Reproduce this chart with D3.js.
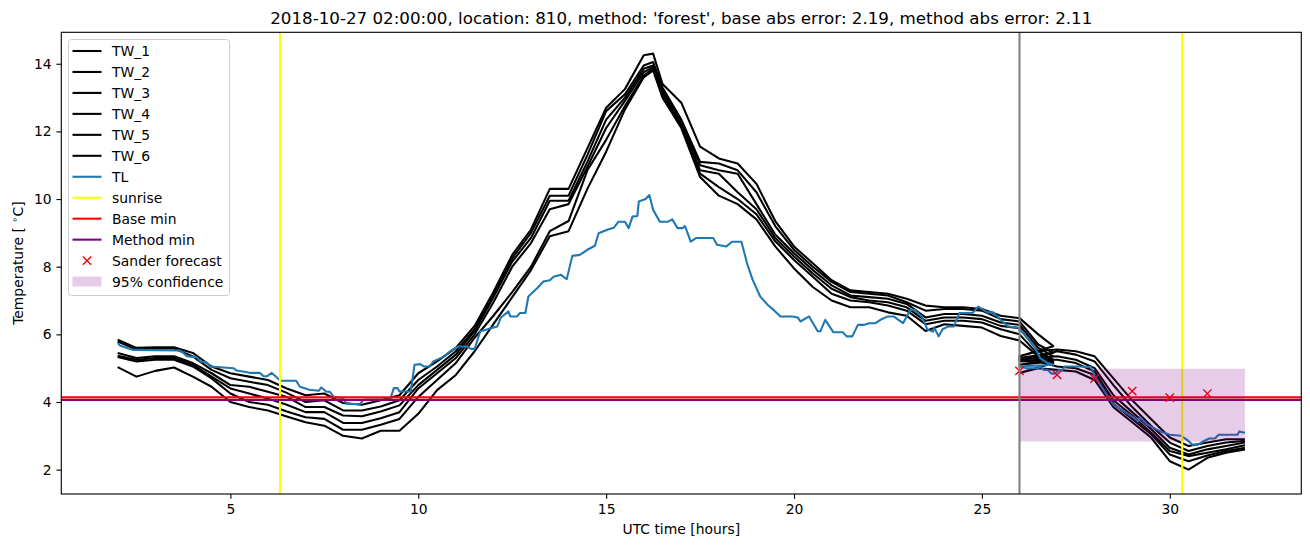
<!DOCTYPE html>
<html><head><meta charset="utf-8">
<script src="https://cdn.jsdelivr.net/npm/d3@7"></script>
<style>body{margin:0;background:#fff} text{font-family:"DejaVu Sans",sans-serif;fill:#000}</style>
</head><body><svg id="c" width="1310" height="547"></svg>
<script>
// ---------- DATA ----------
const titleText = "2018-10-27 02:00:00, location: 810, method: 'forest', base abs error: 2.19, method abs error: 2.11";
const xTicks = [5, 10, 15, 20, 25, 30];
const yTicks = [2, 4, 6, 8, 10, 12, 14];
const seriesNames = ["TW_1", "TW_2", "TW_3", "TW_4", "TW_5", "TW_6"];

const twHours = [2,2.5,3,3.5,4,4.5,5,5.5,6,6.5,7,7.5,8,8.5,9,9.5,10,10.5,11,11.5,12,12.5,13,13.5,14,14.5,15,15.5,16,16.25,16.5,17,17.5,18,18.5,19,19.5,20,20.5,21,21.5,22,22.5,23,23.5,24,24.5,25,25.5,26,26.5,26.9,
  26,26.5,27,27.5,28,28.5,29,29.5,30,30.5,31,31.5,32];
const tw1 = [5.84,5.6,5.62,5.62,5.45,5.05,4.85,4.75,4.65,4.4,4.2,4.25,3.97,3.92,4.05,4.2,4.85,5.2,5.6,6.25,7.25,8.35,9.1,10.3,10.3,11.5,12.7,13.25,14.25,14.3,13.4,12.85,11.55,11.2,11.05,10.45,9.35,8.6,8.1,7.6,7.3,7.25,7.2,7.05,6.85,6.8,6.8,6.75,6.55,6.48,6.0,5.65,
  5.35,5.5,5.55,5.5,5.35,4.7,4.05,3.5,2.95,2.7,2.8,2.9,2.9];
const tw2 = [5.79,5.55,5.58,5.58,5.35,4.95,4.7,4.6,4.5,4.27,4.0,4.05,3.75,3.75,3.87,4.05,4.65,5.05,5.5,6.15,7.15,8.25,9.0,10.1,10.1,11.3,12.6,13.1,13.95,14.05,13.3,12.35,11.1,11.05,10.85,10.2,9.2,8.5,8.0,7.55,7.25,7.2,7.15,6.95,6.7,6.75,6.75,6.7,6.45,6.38,5.7,5.45,
  5.3,5.35,5.5,5.4,5.2,4.5,3.85,3.3,2.8,2.55,2.7,2.8,2.85];
const tw3 = [5.45,5.3,5.35,5.35,5.15,4.85,4.5,4.45,4.3,4.15,3.85,3.85,3.6,3.58,3.72,3.9,4.5,4.95,5.4,6.1,7.1,8.15,8.85,9.95,9.95,11.1,12.35,13.0,13.85,13.95,13.2,12.3,11.0,10.85,10.75,9.85,8.95,8.4,7.9,7.45,7.15,7.1,7.05,6.9,6.5,6.6,6.6,6.55,6.35,6.28,5.6,5.35,
  5.25,5.3,5.35,5.25,5.0,4.2,3.7,3.2,2.65,2.45,2.6,2.7,2.8];
const tw4 = [5.37,5.25,5.3,5.3,5.1,4.75,4.4,4.25,4.1,3.92,3.7,3.7,3.38,3.38,3.52,3.7,4.4,4.85,5.3,6.0,6.95,8.0,8.7,9.7,9.85,10.95,12.1,12.9,13.75,13.9,13.15,12.2,10.85,10.75,10.2,9.7,8.85,8.3,7.8,7.35,7.1,7.0,6.95,6.8,6.4,6.5,6.5,6.45,6.25,6.18,5.5,5.25,
  5.2,5.25,5.25,5.15,4.9,4.05,3.6,3.1,2.55,2.4,2.5,2.6,2.72];
const tw5 = [5.33,5.2,5.25,5.25,5.05,4.7,4.25,4.0,3.92,3.72,3.55,3.5,3.18,3.18,3.33,3.5,4.15,4.65,5.15,5.9,6.55,7.25,8.0,9.05,9.35,10.85,11.75,12.75,13.65,13.85,13.05,12.15,10.75,10.35,10.0,9.55,8.75,8.2,7.7,7.2,7.0,6.95,6.85,6.7,6.3,6.4,6.4,6.35,6.15,6.0,5.4,5.2,
  5.1,5.2,5.05,5.0,4.8,3.95,3.5,3.05,2.45,2.25,2.42,2.55,2.65];
const tw6 = [5.03,4.75,4.92,5.02,4.75,4.45,4.0,3.85,3.75,3.57,3.4,3.3,3.0,2.92,3.15,3.15,3.65,4.35,4.8,5.5,6.3,7.1,7.9,8.9,9.05,10.3,11.4,12.65,13.6,13.8,13.0,12.1,10.65,10.1,9.85,9.4,8.6,7.95,7.4,7.0,6.8,6.8,6.65,6.55,6.1,6.3,6.25,6.2,5.95,5.82,5.35,5.15,
  4.86,5.0,4.95,4.9,4.65,3.85,3.4,2.95,2.25,2.0,2.35,2.5,2.6];

const tlHours = [2.0,2.07,2.42,3.66,3.75,3.84,4.11,4.2,4.37,4.46,5.08,5.17,5.44,5.53,5.79,5.88,5.97,6.1,6.2,6.33,6.75,6.85,7.1,7.35,7.42,7.55,7.65,7.75,8.0,8.1,8.45,8.55,9.25,9.35,9.45,9.5,9.8,9.9,10.05,10.15,10.3,10.4,10.7,10.85,11.07,11.3,11.4,11.5,11.65,11.85,12.1,12.2,12.4,12.45,12.63,12.7,12.85,12.93,13.17,13.33,13.5,13.6,13.8,13.95,14.1,14.3,14.5,14.7,14.8,15.03,15.2,15.33,15.5,15.6,15.7,15.83,15.87,16.05,16.15,16.25,16.43,16.65,16.76,16.9,17.03,17.1,17.25,17.4,17.85,17.95,18.2,18.35,18.6,18.75,18.9,19.1,19.3,19.45,19.64,19.95,20.1,20.17,20.4,20.63,20.7,20.83,21.05,21.3,21.4,21.55,21.7,21.85,22.0,22.17,22.3,22.5,22.65,22.9,23.1,23.2,23.4,23.55,23.7,23.73,23.85,23.95,24.1,24.25,24.4,24.75,24.9,25.15,25.3,25.5,25.7,25.95,26.1,26.4,26.55,26.75,26.9,
  26.0,26.2,26.5,26.55,26.65,26.75,26.85,26.95,27.05,27.15,27.2,27.6,27.9,28.0,28.1,28.35,28.5,28.78,29.05,29.15,29.2,29.4,29.75,30.0,30.3,30.45,30.6,30.75,30.9,31.05,31.2,31.3,31.8,31.85,31.95,32.0];
const tlTemps = [5.74,5.66,5.54,5.52,5.45,5.35,5.32,5.2,5.17,5.05,5.0,4.93,4.88,4.86,4.86,4.76,4.76,4.86,4.76,4.63,4.63,4.45,4.36,4.33,4.43,4.31,4.3,4.15,4.12,3.94,3.94,4.07,4.07,4.41,4.41,4.31,4.31,5.1,5.12,5.05,5.05,5.2,5.35,5.5,5.64,5.64,5.57,5.57,6.09,6.15,6.23,6.5,6.68,6.53,6.53,6.63,6.63,7.12,7.37,7.56,7.6,7.7,7.76,7.63,8.32,8.35,8.5,8.62,8.99,9.09,9.15,9.33,9.33,9.14,9.48,9.5,9.93,10.0,10.12,9.68,9.33,9.33,9.4,9.14,9.14,9.2,8.74,8.85,8.85,8.65,8.6,8.74,8.74,8.1,7.61,7.12,6.87,6.73,6.53,6.53,6.5,6.38,6.53,6.09,6.09,6.43,6.06,6.06,5.94,5.94,6.28,6.28,6.33,6.33,6.43,6.53,6.53,6.33,6.73,6.73,6.53,6.14,6.08,6.2,5.94,6.15,6.23,6.23,6.63,6.63,6.82,6.65,6.65,6.43,6.23,6.2,6.04,5.64,5.3,5.15,5.1,
  5.05,5.0,5.0,5.05,4.95,4.95,4.84,4.84,4.95,4.95,5.05,5.05,5.03,4.76,4.6,4.17,3.92,3.72,3.53,3.43,3.55,3.33,3.13,3.03,3.0,2.89,2.74,2.74,2.84,2.92,2.92,3.03,3.03,3.13,3.1,3.1];

const sunriseHours = [6.32, 30.33];
const baseMin = [4.136];
const methodMin = [4.06];
const forecastStart = [26.0];
const sanderHours = [26, 27, 28, 29, 30, 31];
const sanderTemps = [4.92, 4.80, 4.69, 4.32, 4.13, 4.25];
const confHours = [26, 32];
const confLow = [2.83, 2.83];
const confHigh = [4.98, 4.98];

const legendLabels = ["TW_1","TW_2","TW_3","TW_4","TW_5","TW_6","TL","sunrise","Base min","Method min","Sander forecast","95% confidence"];

// ---------- CHART ----------
const svg = d3.select("#c");
const L = 61.3, R = 1301.3, T = 32.3, B = 494;
const x = d3.scaleLinear().domain([0.5, 33.5]).range([L, R]);
const y = d3.scaleLinear().domain([1.28, 14.93]).range([B, T]);
const FS = 13.9;
const LW = 2.08;

const plot = svg.append("g");
svg.append("clipPath").attr("id","clp").append("rect").attr("x",L).attr("y",T).attr("width",R-L).attr("height",B-T);
const g = plot.append("g").attr("clip-path","url(#clp)");

const line = d3.line().x(d => x(d[0])).y(d => y(d[1]));
const twSeries = [tw1, tw2, tw3, tw4, tw5, tw6];
twSeries.forEach(vals => {
  g.append("path").attr("d", line(twHours.map((h,i)=>[h, vals[i]])))
   .attr("fill","none").attr("stroke","#000").attr("stroke-width",LW).attr("stroke-linejoin","round");
});
g.append("path").attr("d", line(tlHours.map((h,i)=>[h, tlTemps[i]])))
  .attr("fill","none").attr("stroke","#1f77b4").attr("stroke-width",LW).attr("stroke-linejoin","round");

sunriseHours.forEach(h => {
  g.append("line").attr("x1",x(h)).attr("x2",x(h)).attr("y1",T).attr("y2",B)
   .attr("stroke","#ffff00").attr("stroke-width",LW);
});
g.append("line").attr("x1",L).attr("x2",R).attr("y1",y(baseMin[0])).attr("y2",y(baseMin[0]))
  .attr("stroke","#ff0000").attr("stroke-width",LW);
g.append("line").attr("x1",L).attr("x2",R).attr("y1",y(methodMin[0])).attr("y2",y(methodMin[0]))
  .attr("stroke","#800080").attr("stroke-width",LW);

const ms = 4.17;
sanderHours.forEach((h,i) => {
  const cx = x(h), cy = y(sanderTemps[i]);
  g.append("path").attr("d",`M${cx-ms},${cy-ms}L${cx+ms},${cy+ms}M${cx-ms},${cy+ms}L${cx+ms},${cy-ms}`)
   .attr("stroke","#ff0000").attr("stroke-width",1.4).attr("fill","none");
});

const area = d3.area().x((d,i)=>x(confHours[i])).y0((d,i)=>y(confLow[i])).y1((d,i)=>y(confHigh[i]));
g.append("path").attr("d", area(confHours)).attr("fill","#800080").attr("fill-opacity",0.2);

g.append("line").attr("x1",x(forecastStart[0])).attr("x2",x(forecastStart[0])).attr("y1",T).attr("y2",B)
  .attr("stroke","#808080").attr("stroke-width",LW);

// axes
const tk = 4.86;
const xa = svg.append("g").attr("transform",`translate(0,${B})`)
  .call(d3.axisBottom(x).tickValues(xTicks).tickFormat(d3.format("d")).tickSize(tk).tickPadding(tk));
xa.select(".domain").remove();
xa.selectAll("line").attr("stroke","#000").attr("stroke-width",1.11);
xa.selectAll("text").attr("font-size",FS).attr("font-family","DejaVu Sans").attr("fill","#000").attr("y",tk*2).attr("dy","0.76em");
const ya = svg.append("g").attr("transform",`translate(${L},0)`)
  .call(d3.axisLeft(y).tickValues(yTicks).tickFormat(d3.format("d")).tickSize(tk).tickPadding(tk));
ya.select(".domain").remove();
ya.selectAll("line").attr("stroke","#000").attr("stroke-width",1.11);
ya.selectAll("text").attr("font-size",FS).attr("font-family","DejaVu Sans").attr("fill","#000");

svg.append("rect").attr("x",L).attr("y",T).attr("width",R-L).attr("height",B-T)
  .attr("fill","none").attr("stroke","#000").attr("stroke-width",1.11);

// labels
svg.append("text").attr("x",(L+R)/2).attr("y",24).attr("text-anchor","middle").attr("font-size",16.7).text(titleText);
svg.append("text").attr("x",(L+R)/2).attr("y",534).attr("text-anchor","middle").attr("font-size",FS).text("UTC time [hours]");
const yl = svg.append("text").attr("transform",`translate(23,${(T+B)/2}) rotate(-90)`).attr("text-anchor","middle").attr("font-size",FS);
yl.append("tspan").text("Temperature [ ");
yl.append("tspan").attr("dy",-5).attr("font-size",9.7).text("∘");
yl.append("tspan").attr("dy",5).text("C]");

// legend
const lg = svg.append("g");
lg.append("rect").attr("x",68.5).attr("y",39.5).attr("width",161).attr("height",256).attr("rx",3)
  .attr("fill","#fff").attr("fill-opacity",0.8).attr("stroke","#cccccc").attr("stroke-width",1);
const colors = ["#000","#000","#000","#000","#000","#000","#1f77b4","#ffff00","#ff0000","#800080"];
legendLabels.forEach((lab,i) => {
  const cy = 51 + i*20.96;
  if (i < 10) {
    lg.append("line").attr("x1",72.5).attr("x2",101.5).attr("y1",cy).attr("y2",cy).attr("stroke",colors[i]).attr("stroke-width",LW);
  } else if (i === 10) {
    const cx = 87;
    lg.append("path").attr("d",`M${cx-ms},${cy-ms}L${cx+ms},${cy+ms}M${cx-ms},${cy+ms}L${cx+ms},${cy-ms}`).attr("stroke","#ff0000").attr("stroke-width",1.4);
  } else {
    lg.append("rect").attr("x",72.5).attr("y",cy-5).attr("width",29).attr("height",10).attr("fill","#800080").attr("fill-opacity",0.2);
  }
  lg.append("text").attr("x",112).attr("y",cy).attr("dy","0.36em").attr("font-size",FS).text(lab);
});
</script></body></html>
